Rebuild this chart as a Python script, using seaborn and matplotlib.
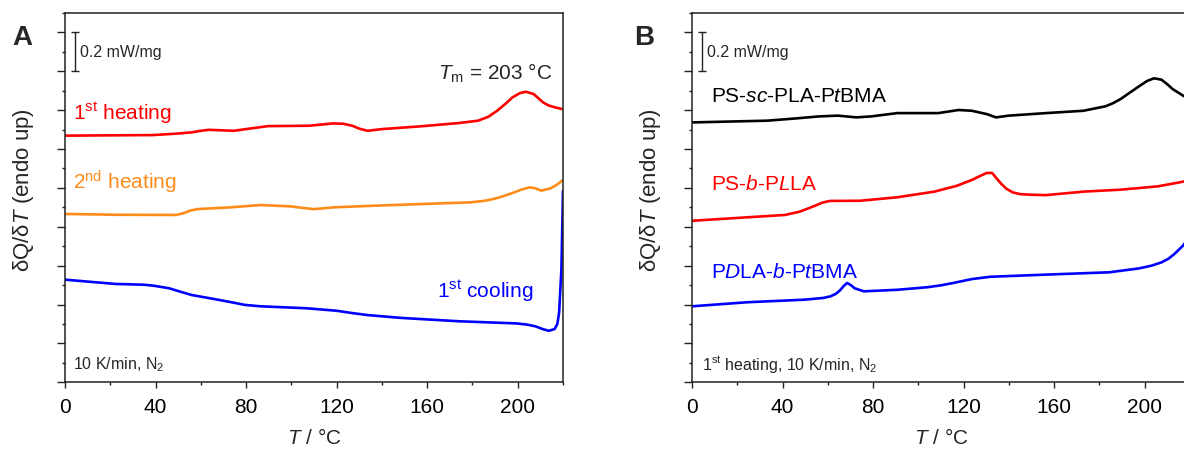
import numpy as np
import pandas as pd
import matplotlib
matplotlib.use("Agg")
import matplotlib.pyplot as plt
from matplotlib.ticker import MultipleLocator
import seaborn as sns

# ---------------- data ----------------
# Panel A
a_heat1_T = [0, 39, 50, 56, 60, 63.6, 68, 74.6, 82, 89.7, 108, 114, 118.4, 123, 126.9, 130, 133.6,
             140.4, 157.2, 174.1, 182.5, 187, 190.9, 194.5, 197.7, 201, 203.6, 207, 209, 211.2,
             213.5, 216.3, 219.6]
a_heat1_Q = [1.269, 1.272, 1.280, 1.286, 1.294, 1.299, 1.297, 1.294, 1.306, 1.318, 1.320, 1.327,
             1.332, 1.330, 1.320, 1.305, 1.294, 1.303, 1.317, 1.334, 1.346, 1.366, 1.397, 1.432,
             1.466, 1.488, 1.495, 1.483, 1.463, 1.440, 1.425, 1.415, 1.406]

a_heat2_T = [0, 22.3, 49.3, 52.6, 55.5, 58.5, 72.9, 86.4, 99.9, 105, 110, 114, 118.4, 135.3,
             157.2, 179.2, 185, 189.3, 193.5, 197.7, 201.5, 205.3, 207.5, 210.4, 214.6, 217.5, 220]
a_heat2_Q = [0.866, 0.862, 0.861, 0.871, 0.884, 0.891, 0.900, 0.912, 0.905, 0.897, 0.891, 0.895,
             0.900, 0.908, 0.917, 0.926, 0.933, 0.943, 0.957, 0.974, 0.991, 1.003, 0.999, 0.986,
             0.998, 1.018, 1.041]

a_cool_T = [0, 22.3, 35, 39.1, 45.9, 51, 56, 66.1, 73, 79.6, 86.4, 106.6, 120.1, 127, 133.6,
            148.8, 174.1, 199.4, 204, 207.8, 211, 213.7, 216.3, 217.5, 218.3, 219.3, 220]
a_cool_Q = [0.528, 0.506, 0.502, 0.497, 0.484, 0.466, 0.449, 0.428, 0.413, 0.398, 0.391, 0.381,
            0.368, 0.356, 0.346, 0.331, 0.314, 0.303, 0.297, 0.288, 0.274, 0.265, 0.274, 0.300,
            0.360, 0.583, 0.985]

# Panel B
b_sc_T = [0, 33.2, 46.3, 56.2, 64.4, 72.6, 79.2, 90.7, 108.8, 117.8, 123.6, 130.2, 134.3, 140,
          156.4, 172.9, 182.7, 186, 189.3, 193.5, 197.5, 201, 204.1, 207.4, 210, 212.3, 216.9, 220]
b_sc_Q = [1.337, 1.346, 1.358, 1.368, 1.372, 1.363, 1.368, 1.385, 1.385, 1.401, 1.397, 1.380,
          1.363, 1.372, 1.385, 1.397, 1.420, 1.436, 1.457, 1.491, 1.523, 1.550, 1.564, 1.557,
          1.533, 1.509, 1.475, 1.455]

b_plla_T = [0, 24.6, 41.1, 47.6, 54.3, 57.5, 60.8, 74.3, 90.7, 107.1, 117, 123.6, 127, 130.2,
            132.6, 134.5, 136.7, 139, 141.7, 145, 149.9, 156.4, 172.9, 189.3, 205.7, 216.9, 220]
b_plla_Q = [0.831, 0.849, 0.861, 0.878, 0.908, 0.924, 0.933, 0.934, 0.952, 0.981, 1.011, 1.041,
            1.060, 1.077, 1.077, 1.050, 1.020, 0.995, 0.977, 0.968, 0.965, 0.963, 0.981, 0.991,
            1.008, 1.032, 1.045]

b_pdla_T = [0, 24.6, 49.6, 58, 61.1, 63.5, 65.2, 67, 68.5, 70.2, 71.8, 75.9, 90.7, 103.9, 110,
            115.4, 123.6, 131.8, 156.4, 184.4, 197.5, 203, 207.4, 210.5, 213.1, 216.9, 220]
b_pdla_Q = [0.391, 0.412, 0.425, 0.434, 0.442, 0.455, 0.471, 0.495, 0.511, 0.500, 0.484, 0.468,
            0.476, 0.489, 0.499, 0.511, 0.531, 0.543, 0.554, 0.566, 0.586, 0.600, 0.617, 0.636,
            0.660, 0.703, 0.750]

a_labels = ["1$^{\\mathrm{st}}$ heating", "2$^{\\mathrm{nd}}$ heating", "1$^{\\mathrm{st}}$ cooling"]
b_labels = ["PS-$\\mathit{sc}$-PLA-P$\\mathit{t}$BMA", "PS-$\\mathit{b}$-P$\\mathit{L}$LA",
            "P$\\mathit{D}$LA-$\\mathit{b}$-P$\\mathit{t}$BMA"]
a_colors = ["#ff0000", "#ff8c1a", "#0000ff"]
b_colors = ["#000000", "#ff0000", "#0000ff"]

x_ticks = [0, 40, 80, 120, 160, 200]
scale_bar = 0.2  # mW/mg

# ---------------- style ----------------
sns.set_theme(style="ticks")
plt.rcParams["font.family"] = ["Liberation Sans", "DejaVu Sans"]
plt.rcParams["mathtext.fontset"] = "custom"
plt.rcParams["mathtext.rm"] = "Liberation Sans"
plt.rcParams["mathtext.it"] = "Liberation Sans:italic"
plt.rcParams["mathtext.bf"] = "Liberation Sans:bold"
plt.rcParams["axes.linewidth"] = 1.1
plt.rcParams["axes.edgecolor"] = "#222222"

fig = plt.figure(figsize=(11.84, 4.52), dpi=100)
W, H = 1184, 452
axA = fig.add_axes([65 / W, (H - 383.3) / H, 498 / W, 369.3 / H])
axB = fig.add_axes([692 / W, (H - 383.3) / H, 498 / W, 369.3 / H])


def frame(T, Q):
    return pd.DataFrame({"T": T, "Q": Q})


def style_axis(ax):
    ax.set_xlim(0, 220)
    ax.set_ylim(0, 1.9)
    ax.set_xticks(x_ticks)
    ax.xaxis.set_minor_locator(MultipleLocator(20))
    ax.yaxis.set_major_locator(MultipleLocator(0.2))
    ax.yaxis.set_minor_locator(MultipleLocator(0.1))
    ax.set_yticklabels([])
    ax.tick_params(axis="x", which="major", direction="out", length=4, width=1.0,
                   labelsize=15, pad=6.5, colors="#222222", labelcolor="black")
    ax.tick_params(axis="x", which="minor", direction="out", length=2.5, width=1.0, colors="#222222")
    ax.tick_params(axis="y", which="major", direction="out", length=5.5, width=1.0, colors="#222222")
    ax.tick_params(axis="y", which="minor", direction="out", length=2.5, width=1.0, colors="#222222")
    for s in ax.spines.values():
        s.set_visible(True)
    ax.set_xlabel("$T$ / °C", fontsize=15, labelpad=8)
    ax.set_ylabel("δQ/δ$T$ (endo up)", fontsize=16)
    ax.yaxis.set_label_coords(-0.058, 0.523)
    # scale bar
    ax.errorbar([4.2], [1.7], yerr=scale_bar / 2, color="#222222", lw=1.0, capsize=3,
                capthick=1.0, fmt="none")
    ax.text(6.5, 1.70, "0.2 mW/mg", fontsize=11.5, va="center", ha="left")


# Panel A
for T, Q, c in [(a_heat1_T, a_heat1_Q, a_colors[0]), (a_heat2_T, a_heat2_Q, a_colors[1]),
                (a_cool_T, a_cool_Q, a_colors[2])]:
    sns.lineplot(data=frame(T, Q), x="T", y="Q", ax=axA, color=c, lw=1.9, sort=False,
                 estimator=None)
style_axis(axA)
axA.text(3.4, 1.356, a_labels[0], color=a_colors[0], fontsize=15, va="baseline", ha="left")
axA.text(3.7, 0.998, a_labels[1], color=a_colors[1], fontsize=15, va="baseline", ha="left")
axA.text(206.7, 0.437, a_labels[2], color=a_colors[2], fontsize=15, va="baseline", ha="right")
axA.text(215.2, 1.56, "$T_{\\mathrm{m}}$ = 203 °C", fontsize=15, va="baseline", ha="right")
axA.text(3.4, 0.072, "10 K/min, N$_2$", fontsize=11.5, va="baseline", ha="left")

# Panel B
for T, Q, c in [(b_sc_T, b_sc_Q, b_colors[0]), (b_plla_T, b_plla_Q, b_colors[1]),
                (b_pdla_T, b_pdla_Q, b_colors[2])]:
    sns.lineplot(data=frame(T, Q), x="T", y="Q", ax=axB, color=c, lw=1.9, sort=False,
                 estimator=None)
style_axis(axB)
axB.text(8.2, 1.449, b_labels[0], color=b_colors[0], fontsize=15, va="baseline", ha="left")
axB.text(8.2, 0.994, b_labels[1], color=b_colors[1], fontsize=15, va="baseline", ha="left")
axB.text(8.2, 0.540, b_labels[2], color=b_colors[2], fontsize=15, va="baseline", ha="left")
axB.text(4.4, 0.068, "1$^{\\mathrm{st}}$ heating, 10 K/min, N$_2$", fontsize=11.5,
         va="baseline", ha="left")

fig.text(22 / W, 1 - 38 / H, "A", fontsize=20, fontweight="bold", ha="center", va="center")
fig.text(644 / W, 1 - 38 / H, "B", fontsize=20, fontweight="bold", ha="center", va="center")

fig.savefig("out.png", dpi=100)
